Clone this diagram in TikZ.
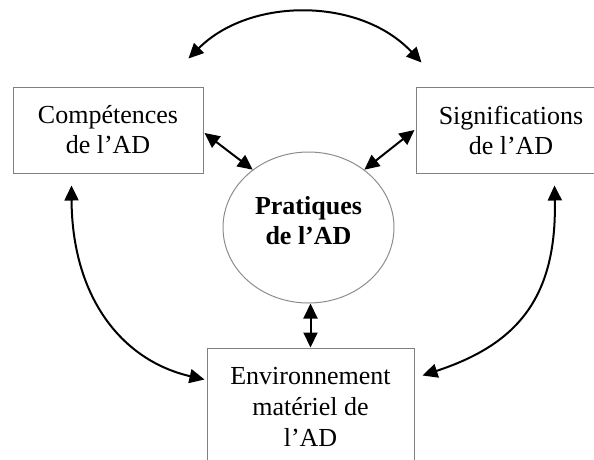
\documentclass[tikz,border=0pt]{standalone}
\usepackage{fontspec}
\setmainfont{Liberation Serif}
\usetikzlibrary{arrows.meta,shapes.geometric,calc}
\begin{document}
\begin{tikzpicture}[x=1pt,y=-1pt,
  box/.style={draw=black!50, line width=1pt, rectangle, align=center,
    font=\fontsize{26}{30}\selectfont, inner sep=0pt},
  circ/.style={draw=black!45, line width=1pt, ellipse, inner sep=0pt,
    minimum width=171pt, minimum height=151pt},
  bold txt/.style={align=center, font=\fontsize{26}{30}\selectfont\bfseries},
  dbl/.style={line width=2pt, {Triangle[length=15pt,width=14pt]}-{Triangle[length=15pt,width=14pt]}}
]
\useasboundingbox (0,0) rectangle (594,459);
\clip (0,0) rectangle (594,459);

\node[box, minimum width=190pt, minimum height=86pt] (comp) at (108,130) {Compétences\\de l’AD};
\node[box, minimum width=190pt, minimum height=86pt] (sign) at (511,130) {Significations\\de l’AD};
\node[circ] (prat) at (308.5,227.5) {};
\node[bold txt] (pratt) at ($(prat.center)+(0,-7)$) {Pratiques\\de l’AD};
\node[box, minimum width=207pt, minimum height=117pt, font=\fontsize{26}{31}\selectfont] (env) at (310.5,406.5) {Environnement\\matériel de\\l’AD};

% free ends
\coordinate (ta) at ($(comp.north east)+(-15,-28)$);
\coordinate (tb) at ($(sign.north west)+(6,-24)$);
\coordinate (la) at ($(comp.south west)+(59,12)$);
\coordinate (lb) at ($(env.west)+(-2,-27)$);
\coordinate (ra) at ($(sign.south west)+(139,12)$);
\coordinate (rb) at ($(env.east)+(8,-31)$);

\draw[dbl] (ta) .. controls (250,-3) and (360,-3) .. (tb);
\draw[dbl] ($(comp.east)+(1,3)$) -- (prat.134);
\draw[dbl] ($(sign.west)+(-1,0)$) -- (prat.46);
\draw[dbl] (env.north |- prat.south) -- (env.north);
\draw[dbl] (la) .. controls (72,295) and (120,360) .. (lb);
\draw[dbl] (ra) .. controls (557,300) and (515,345) .. (rb);
\end{tikzpicture}
\end{document}
